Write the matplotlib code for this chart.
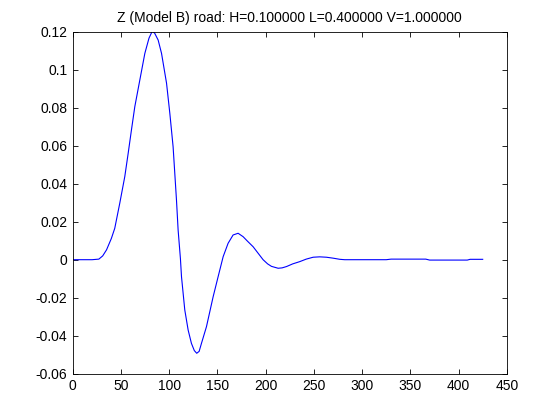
import matplotlib
matplotlib.use("Agg")
import matplotlib.pyplot as plt

# sample index vs vertical displacement
sample = [0, 10, 20, 27, 31, 35, 40, 43.5, 48.7, 53.9, 57.4, 60.8, 64.3, 69.5,
          74.7, 79, 82.5, 85, 88.5, 92, 97.2, 100.6, 104, 107.5, 109.2, 111.6,
          112.7, 116.1, 119.6, 123, 126, 128.5, 131, 133.4, 138.6, 145.5, 150.7,
          155.9, 161, 166.2, 171.4, 176.6, 181, 187, 192, 197.3, 202, 206, 212.9,
          217, 221.6, 228, 235.4, 242, 249.2, 256, 263, 270, 276.9, 282, 287.2,
          300, 325, 330, 350, 366, 370, 390, 409, 412, 425]
z = [0, 0, 0, 0.0003, 0.002, 0.0052, 0.0112, 0.0165, 0.0297, 0.0437, 0.0559,
     0.0682, 0.0805, 0.0945, 0.1085, 0.1165, 0.1203, 0.119, 0.1155, 0.1085,
     0.0928, 0.077, 0.0594, 0.0314, 0.0156, 0.0005, -0.0089, -0.0264, -0.037,
     -0.044, -0.0478, -0.0492, -0.0482, -0.044, -0.0352, -0.0195, -0.0089,
     0.0016, 0.0086, 0.013, 0.0139, 0.0121, 0.0098, 0.0068, 0.0035, 0.0,
     -0.0022, -0.0035, -0.0045, -0.0043, -0.0036, -0.0022, -0.001, 0.0003,
     0.0013, 0.0015, 0.0013, 0.0008, 0.0002, 0.0, 0.0, 0.0, 0.0, 0.0003,
     0.0003, 0.0003, -0.0002, -0.0002, -0.0002, 0.0002, 0.0002]

xticks = [0, 50, 100, 150, 200, 250, 300, 350, 400, 450]
yticks = [-0.06, -0.04, -0.02, 0, 0.02, 0.04, 0.06, 0.08, 0.1, 0.12]
ylabels = ["-0.06", "-0.04", "-0.02", "0", "0.02", "0.04", "0.06", "0.08", "0.1", "0.12"]

plt.rcParams['font.family'] = ['Liberation Sans', 'DejaVu Sans']
plt.rcParams['font.size'] = 10

fig = plt.figure(figsize=(5.6, 4.2), dpi=100)
ax = fig.add_axes([0.13, 0.11, 0.775, 0.815])

ax.plot(sample, z, color=(0, 0, 1), linewidth=0.8)

ax.set_xlim(0, 450)
ax.set_ylim(-0.06, 0.12)
ax.set_xticks(xticks)
ax.set_xticklabels([str(t) for t in xticks])
ax.set_yticks(yticks)
ax.set_yticklabels(ylabels)
ax.tick_params(direction='in', length=3.5, width=0.6, top=True, right=True,
               labelsize=10, pad=4)
for s in ax.spines.values():
    s.set_linewidth(0.6)

ax.set_title("Z (Model B) road: H=0.100000 L=0.400000 V=1.000000", fontsize=10, pad=7)

fig.savefig("out.png", dpi=100)
